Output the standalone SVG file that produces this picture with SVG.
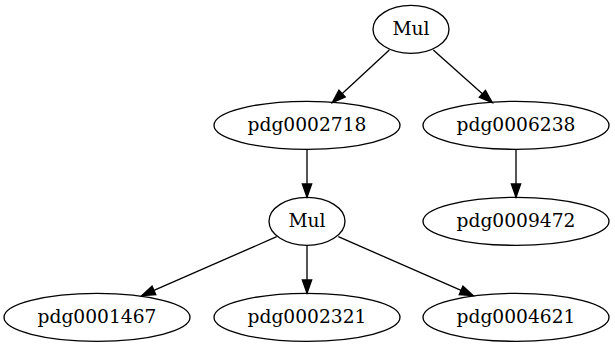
<svg xmlns="http://www.w3.org/2000/svg" width="615" height="347" viewBox="0 0 615 347">
<style>
.n ellipse{fill:none;stroke:#000;stroke-width:1.33}
.n text{font-family:"DejaVu Serif",serif;font-size:18.67px;text-anchor:middle;fill:#000}
#edges line{stroke:#000;stroke-width:1.33}
#edges polygon{fill:#000;stroke:#000;stroke-width:1.33}
</style>
<rect width="615" height="347" fill="#fff"/>
<g id="edges">
<line x1="389.3" y1="50" x2="342.09" y2="93.65"/>
<polygon points="332.3,102.7 345.26,97.08 338.92,90.22"/>
<line x1="433.3" y1="50" x2="482.36" y2="93.82"/>
<polygon points="492.3,102.7 479.25,97.30 485.47,90.34"/>
<line x1="307" y1="149.3" x2="307" y2="184"/>
<polygon points="307,197.3 302.33,184 311.67,184"/>
<line x1="516" y1="149.3" x2="516" y2="184"/>
<polygon points="516,197.3 511.33,184 520.67,184"/>
<line x1="276.7" y1="236.7" x2="153.91" y2="290.36"/>
<polygon points="141.7,295.7 155.78,294.64 152.04,286.08"/>
<line x1="307" y1="245.3" x2="307" y2="280"/>
<polygon points="307,293.3 302.33,280 311.67,280"/>
<line x1="338.3" y1="236.7" x2="461.09" y2="290.36"/>
<polygon points="473.3,295.7 459.22,294.64 462.96,286.08"/>
</g>
<g id="mul1" class="n"><ellipse cx="411" cy="29.3" rx="38" ry="24"/><text x="411" y="34.9">Mul</text></g>
<g id="pdg0002718" class="n"><ellipse cx="307" cy="125.3" rx="93" ry="24"/><text x="307" y="130.9">pdg0002718</text></g>
<g id="pdg0006238" class="n"><ellipse cx="516" cy="125.3" rx="93" ry="24"/><text x="516" y="130.9">pdg0006238</text></g>
<g id="mul2" class="n"><ellipse cx="307" cy="221.3" rx="38" ry="24"/><text x="307" y="226.9">Mul</text></g>
<g id="pdg0009472" class="n"><ellipse cx="516" cy="221.3" rx="93" ry="24"/><text x="516" y="226.9">pdg0009472</text></g>
<g id="pdg0001467" class="n"><ellipse cx="97" cy="317.3" rx="93" ry="24"/><text x="97" y="322.9">pdg0001467</text></g>
<g id="pdg0002321" class="n"><ellipse cx="307" cy="317.3" rx="93" ry="24"/><text x="307" y="322.9">pdg0002321</text></g>
<g id="pdg0004621" class="n"><ellipse cx="516" cy="317.3" rx="93" ry="24"/><text x="516" y="322.9">pdg0004621</text></g>
</svg>
